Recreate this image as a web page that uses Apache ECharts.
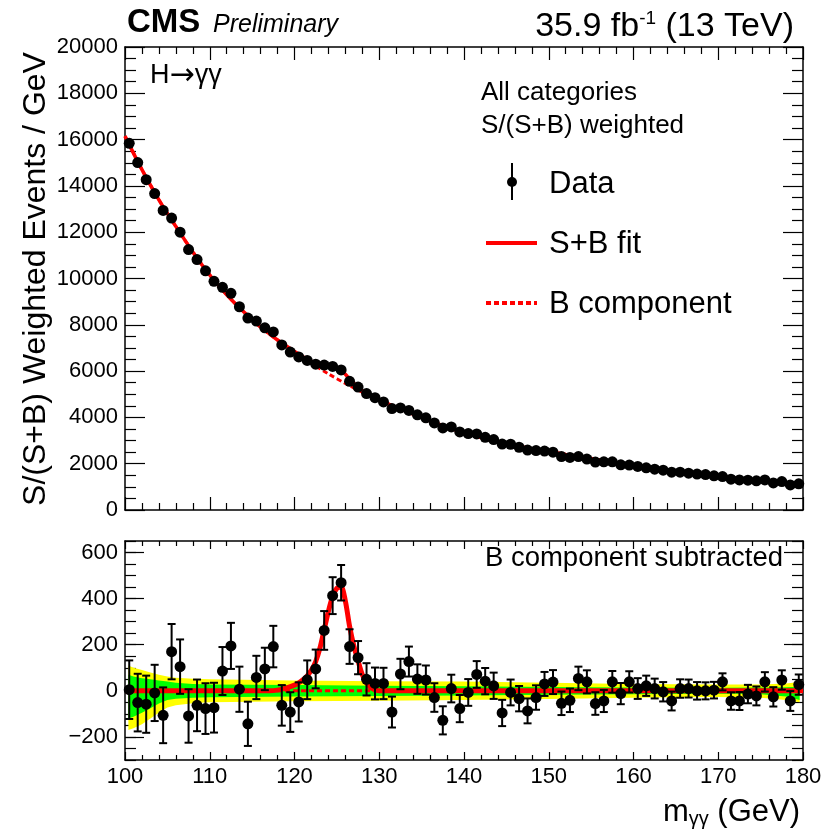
<!DOCTYPE html>
<html>
<head>
<meta charset="utf-8">
<script src="https://cdn.jsdelivr.net/npm/echarts@6/dist/echarts.min.js"></script>
<style>
  html, body { margin: 0; padding: 0; background: #fff; }
  #chart { width: 831px; height: 834px; }
</style>
</head>
<body>
<div id="chart"></div>
<script>
// binning of the diphoton mass histogram (GeV)
var binLow = 100;
var binWidth = 1;

// top pad: S/(S+B) weighted events per bin, 100-180 GeV
var weightedEvents = [
  15840, 15010, 14270, 13670, 12940, 12610, 12000, 11250, 10820, 10330,
  9880, 9620, 9360, 8780, 8290, 8160, 7870, 7690, 7130, 6820,
  6610, 6460, 6300, 6260, 6200, 6050, 5560, 5310, 5030, 4850,
  4670, 4380, 4410, 4300, 4110, 3980, 3760, 3545, 3590, 3370,
  3300, 3285, 3140, 3040, 2850, 2840, 2710, 2590, 2565, 2545,
  2500, 2310, 2270, 2310, 2200, 2070, 2080, 2080, 1950, 1940,
  1880, 1820, 1765, 1720, 1635, 1635, 1590, 1550, 1530, 1475,
  1445, 1330, 1300, 1290, 1260, 1300, 1170, 1230, 1085, 1130
];

// bottom pad: data minus B component, with errors
var residEvents = [
  5, -51, -58, -9, -106, 170, 105, -109, -63, -77,
  -73, 86, 195, 7, -143, 58, 95, 192, -63, -92,
  -48, 48, 95, 262, 413, 469, 192, 144, 50, 32,
  32, -92, 73, 127, 51, 47, -29, -128, 10, -77,
  -7, 71, 42, 22, -96, -7, -34, -87, -29, 30,
  38, -54, -41, 54, 39, -55, -44, 39, -12, 39,
  10, 22, 10, -4, -44, 10, 10, 0, 0, 3,
  39, -44, -44, -14, -22, 39, -26, 47, -44, 27
];
var residErr = [
  127, 125, 124, 122, 121, 120, 118, 116, 112, 110,
  108, 104, 100, 98, 96, 94, 92, 90, 88, 86,
  85, 84, 84, 84, 80, 77, 75, 72, 70, 69,
  68, 67, 66, 65, 64, 63, 62, 61, 60, 59,
  58, 58, 57, 57, 57, 56, 55, 54, 53, 52,
  52, 51, 51, 51, 50, 49, 48, 47, 46, 46,
  45, 44, 43, 42, 41, 40, 39, 38, 37, 36,
  37, 38, 39, 40, 41, 42, 42, 42, 43, 44
];

// B component of the fit
var bMass = [100, 102, 104, 106, 108, 110, 112, 114, 116, 118,
             120, 122, 124, 126, 128, 130, 132, 134, 136, 138,
             140, 142, 144, 146, 148, 150, 152, 154, 156, 158,
             160, 162, 164, 166, 168, 170, 172, 174, 176, 178, 180];
var bFit = [16150, 14700, 13400, 12250, 11150, 10150, 9300, 8560, 7900, 7340,
            6820, 6330, 5880, 5470, 5090, 4750, 4440, 4140, 3850, 3580,
            3340, 3130, 2950, 2790, 2650, 2530, 2400, 2280, 2160, 2030,
            1910, 1810, 1720, 1630, 1540, 1460, 1380, 1310, 1240, 1170, 1110];

// signal part of the S+B fit (S+B minus B)
var sigMass = [100, 117, 118, 119, 120, 120.5, 121, 121.5, 122, 122.5, 123, 123.5,
               124, 124.5, 125, 125.5, 126, 126.5, 127, 127.5, 128, 128.5,
               129, 129.5, 130, 132, 180];
var sigFit = [0, 0, 3, 12, 25, 35, 48, 65, 90, 127, 185, 265,
              345, 410, 445, 450, 390, 280, 195, 130, 70, 35,
              14, 5, 0, 0, 0];

// uncertainty bands on the B component (bottom pad)
var bandMass = [100.4, 101, 102, 103, 104, 105, 106, 108, 110, 120, 130, 140, 150, 160, 170, 175, 178, 179.6];
var band2Hi = [110, 100, 90, 80, 70, 62, 57, 52, 50, 45, 42, 40, 35, 30, 27, 28, 32, 38];
var band2Lo = [-170, -162, -145, -120, -95, -72, -62, -54, -50, -45, -43, -40, -35, -30, -27, -30, -40, -50];
var band1Hi = [70, 62, 55, 50, 45, 40, 35, 30, 28, 25, 22, 20, 17, 15, 13, 14, 16, 18];
var band1Lo = [-120, -112, -95, -75, -55, -40, -34, -30, -28, -25, -22, -20, -17, -15, -13, -15, -25, -40];

var FONT = 'Liberation Sans';

function bAt(m) {
  for (var i = 0; i < bMass.length - 1; i++) {
    if (m >= bMass[i] && m <= bMass[i + 1]) {
      var t = (m - bMass[i]) / (bMass[i + 1] - bMass[i]);
      return bFit[i] + t * (bFit[i + 1] - bFit[i]);
    }
  }
  return bFit[bFit.length - 1];
}

var centers = weightedEvents.map(function (v, i) { return binLow + binWidth * (i + 0.5); });
var topData = weightedEvents.map(function (v, i) { return [centers[i], v]; });
var botData = residEvents.map(function (v, i) { return [centers[i], v, residErr[i]]; });
var bLine = bMass.map(function (m, i) { return [m, bFit[i]]; });

// S+B curve for the top pad: B nodes outside the peak, signal nodes inside
var sbLine = [];
bMass.forEach(function (m, i) { if (m < 117 || m > 132) sbLine.push([m, bFit[i]]); });
sigMass.forEach(function (m, i) { if (m >= 117 && m <= 132) sbLine.push([m, bAt(m) + sigFit[i]]); });
sbLine.sort(function (a, b) { return a[0] - b[0]; });

var sigLine = sigMass.map(function (m, i) { return [m, sigFit[i]]; });
var bandRows = bandMass.map(function (m, i) { return [m, band2Lo[i], band2Hi[i], band1Lo[i], band1Hi[i]]; });

function plainNum(v) { return String(v).replace('-', '\u2212'); }

function xAx(grid, pos, labels, tickLen, minorLen) {
  return {
    type: 'value', gridIndex: grid, position: pos, min: 100, max: 180, interval: 10,
    axisLine: { show: true, onZero: false, lineStyle: { color: '#000', width: 1.5 } },
    axisTick: { show: true, inside: true, length: tickLen, lineStyle: { color: '#000', width: 1.2 } },
    minorTick: { show: true, splitNumber: 5, length: minorLen, lineStyle: { color: '#000', width: 1.2 } },
    axisLabel: { show: labels, fontFamily: FONT, fontSize: 22, color: '#000', margin: 6, formatter: plainNum },
    splitLine: { show: false }
  };
}

var myChart = echarts.init(document.getElementById('chart'));
var option = {
  animation: false,
  backgroundColor: '#fff',
  grid: [
    { left: 125, top: 47, width: 678, height: 463 },
    { left: 125, top: 541, width: 678, height: 219 }
  ],
  xAxis: [
    xAx(0, 'bottom', false, 13, 7),
    xAx(0, 'top', false, 13, 7),
    xAx(1, 'bottom', true, 8, 5),
    xAx(1, 'top', false, 8, 5)
  ],
  yAxis: [
    {       // top pad, left
      type: 'value', gridIndex: 0, position: 'left', min: 0, max: 20000, interval: 2000,
      axisLine: { show: true, onZero: false, lineStyle: { color: '#000', width: 1.5 } },
      axisTick: { show: true, inside: true, length: 20, lineStyle: { color: '#000', width: 1.2 } },
      minorTick: { show: true, splitNumber: 4, length: 11, lineStyle: { color: '#000', width: 1.2 } },
      axisLabel: { fontFamily: FONT, fontSize: 22, color: '#000', margin: 7, formatter: plainNum },
      splitLine: { show: false }
    },
    {       // top pad, right
      type: 'value', gridIndex: 0, position: 'right', min: 0, max: 20000, interval: 2000,
      axisLine: { show: true, onZero: false, lineStyle: { color: '#000', width: 1.5 } },
      axisTick: { show: true, inside: true, length: 20, lineStyle: { color: '#000', width: 1.2 } },
      minorTick: { show: true, splitNumber: 4, length: 11, lineStyle: { color: '#000', width: 1.2 } },
      axisLabel: { show: false },
      splitLine: { show: false }
    },
    {       // bottom pad, left, minor ticks + labels
      type: 'value', gridIndex: 1, position: 'left', min: -300, max: 650, interval: 50,
      axisLine: { show: true, onZero: false, lineStyle: { color: '#000', width: 1.5 } },
      axisTick: { show: true, inside: true, length: 11, lineStyle: { color: '#000', width: 1.2 } },
      axisLabel: {
        fontFamily: FONT, fontSize: 22, color: '#000', margin: 7,
        formatter: function (v) { return v % 200 === 0 ? plainNum(v) : ''; }
      },
      splitLine: { show: false }
    },
    {       // bottom pad, left, major ticks
      type: 'value', gridIndex: 1, position: 'left', min: -300, max: 650,
      axisLine: { show: false },
      axisTick: { show: true, inside: true, length: 19, customValues: [-200, 0, 200, 400, 600], lineStyle: { color: '#000', width: 1.2 } },
      axisLabel: { show: false },
      splitLine: { show: false }
    },
    {       // bottom pad, right, minor ticks
      type: 'value', gridIndex: 1, position: 'right', min: -300, max: 650, interval: 50,
      axisLine: { show: true, onZero: false, lineStyle: { color: '#000', width: 1.5 } },
      axisTick: { show: true, inside: true, length: 11, lineStyle: { color: '#000', width: 1.2 } },
      axisLabel: { show: false },
      splitLine: { show: false }
    },
    {       // bottom pad, right, major ticks
      type: 'value', gridIndex: 1, position: 'right', min: -300, max: 650,
      axisLine: { show: false },
      axisTick: { show: true, inside: true, length: 19, customValues: [-200, 0, 200, 400, 600], lineStyle: { color: '#000', width: 1.2 } },
      axisLabel: { show: false },
      splitLine: { show: false }
    }
  ],
  series: [
    {
      name: 'B component', type: 'line', xAxisIndex: 0, yAxisIndex: 0, data: bLine,
      smooth: 0.3, symbol: 'none', z: 2,
      lineStyle: { color: '#ff0000', width: 3, type: [5, 3] }
    },
    {
      name: 'S+B fit', type: 'line', xAxisIndex: 0, yAxisIndex: 0, data: sbLine,
      smooth: 0.3, symbol: 'none', z: 3,
      lineStyle: { color: '#ff0000', width: 3.5 }
    },
    {
      name: 'Data', type: 'scatter', xAxisIndex: 0, yAxisIndex: 0, data: topData,
      symbol: 'circle', symbolSize: 11, z: 5,
      itemStyle: { color: '#000', opacity: 1 }
    },
    {
      name: 'bands', type: 'custom', xAxisIndex: 2, yAxisIndex: 2, data: bandRows, z: 1,
      renderItem: function (params, api) {
        if (params.dataIndex !== 0) return null;
        var y2 = [], g1 = [];
        bandRows.forEach(function (r) { y2.push(api.coord([r[0], r[2]])); g1.push(api.coord([r[0], r[4]])); });
        for (var i = bandRows.length - 1; i >= 0; i--) {
          y2.push(api.coord([bandRows[i][0], bandRows[i][1]]));
          g1.push(api.coord([bandRows[i][0], bandRows[i][3]]));
        }
        return {
          type: 'group',
          children: [
            { type: 'polygon', shape: { points: y2 }, style: { fill: '#ffff00' } },
            { type: 'polygon', shape: { points: g1 }, style: { fill: '#00ff00' } }
          ]
        };
      }
    },
    {
      name: 'B zero', type: 'line', xAxisIndex: 2, yAxisIndex: 2, data: [[100, 0], [180, 0]],
      symbol: 'none', z: 2,
      lineStyle: { color: '#ff0000', width: 3, type: [5, 3] }
    },
    {
      name: 'S+B minus B', type: 'line', xAxisIndex: 2, yAxisIndex: 2, data: sigLine,
      smooth: 0.3, symbol: 'none', z: 3,
      lineStyle: { color: '#ff0000', width: 5 }
    },
    {
      name: 'errors', type: 'custom', xAxisIndex: 2, yAxisIndex: 2, data: botData, z: 4,
      renderItem: function (params, api) {
        var x = api.value(0), y = api.value(1), e = api.value(2);
        var hi = api.coord([x, y + e]);
        var lo = api.coord([x, y - e]);
        var st = { stroke: '#000', lineWidth: 2 };
        return {
          type: 'group',
          children: [
            { type: 'line', shape: { x1: hi[0], y1: hi[1], x2: lo[0], y2: lo[1] }, style: st },
            { type: 'line', shape: { x1: hi[0] - 4, y1: hi[1], x2: hi[0] + 4, y2: hi[1] }, style: st },
            { type: 'line', shape: { x1: lo[0] - 4, y1: lo[1], x2: lo[0] + 4, y2: lo[1] }, style: st }
          ]
        };
      }
    },
    {
      name: 'Data sub', type: 'scatter', xAxisIndex: 2, yAxisIndex: 2,
      data: botData.map(function (d) { return [d[0], d[1]]; }),
      symbol: 'circle', symbolSize: 11, z: 5,
      itemStyle: { color: '#000', opacity: 1 }
    }
  ],
  graphic: [
    { type: 'text', left: 127, top: 6, style: { text: 'CMS', font: 'bold 33px "Liberation Sans"', fill: '#000' } },
    { type: 'text', left: 213, top: 13, style: { text: 'Preliminary', font: 'italic 25px "Liberation Sans"', fill: '#000' } },
    {
      type: 'text', right: 37, top: 9,
      style: {
        text: '{a|35.9 fb}{s|-1}{a| (13 TeV)}', fill: '#000',
        rich: {
          a: { fontFamily: FONT, fontSize: 34, color: '#000', verticalAlign: 'bottom' },
          s: { fontFamily: FONT, fontSize: 19, color: '#000', verticalAlign: 'top', padding: [0, 0, 16, 0] }
        }
      }
    },
    {
      type: 'text', x: 36, y: 279, rotation: Math.PI / 2,
      style: { text: 'S/(S+B) Weighted Events / GeV', fontFamily: FONT, fontSize: 32, fill: '#000', align: 'center', verticalAlign: 'middle' }
    },
    {
      type: 'text', x: 150, y: 76,
      style: {
        text: '{a|H}{r|\u2192}{a|\u03b3\u03b3}', verticalAlign: 'middle',
        rich: {
          a: { fontFamily: FONT, fontSize: 27, color: '#000' },
          r: { fontFamily: 'DejaVu Sans', fontSize: 30, color: '#000' }
        }
      }
    },
    { type: 'text', x: 481, y: 93, style: { text: 'All categories', fontFamily: FONT, fontSize: 26, fill: '#000', verticalAlign: 'middle' } },
    { type: 'text', x: 481, y: 126, style: { text: 'S/(S+B) weighted', fontFamily: FONT, fontSize: 26, fill: '#000', verticalAlign: 'middle' } },
    { type: 'line', shape: { x1: 512, y1: 163, x2: 512, y2: 200 }, style: { stroke: '#000', lineWidth: 2 } },
    { type: 'circle', shape: { cx: 512, cy: 182, r: 5 }, style: { fill: '#000' } },
    { type: 'text', x: 549, y: 184, style: { text: 'Data', fontFamily: FONT, fontSize: 31, fill: '#000', verticalAlign: 'middle' } },
    { type: 'line', shape: { x1: 486, y1: 243, x2: 537, y2: 243 }, style: { stroke: '#ff0000', lineWidth: 4 } },
    { type: 'text', x: 549, y: 244, style: { text: 'S+B fit', fontFamily: FONT, fontSize: 31, fill: '#000', verticalAlign: 'middle' } },
    { type: 'line', shape: { x1: 486, y1: 303, x2: 537, y2: 303 }, style: { stroke: '#ff0000', lineWidth: 4, lineDash: [5, 3] } },
    { type: 'text', x: 549, y: 304, style: { text: 'B component', fontFamily: FONT, fontSize: 31, fill: '#000', verticalAlign: 'middle' } },
    { type: 'text', x: 783, y: 558, style: { text: 'B component subtracted', fontFamily: FONT, fontSize: 27.5, fill: '#000', align: 'right', verticalAlign: 'middle' } },
    {
      type: 'text', right: 31, top: 797,
      style: {
        text: '{a|m}{s|\u03b3\u03b3}{a| (GeV)}', fill: '#000',
        rich: {
          a: { fontFamily: FONT, fontSize: 31, color: '#000', verticalAlign: 'top' },
          s: { fontFamily: FONT, fontSize: 20, color: '#000', verticalAlign: 'bottom', padding: [12, 0, 0, 0] }
        }
      }
    }
  ]
};
myChart.setOption(option);
</script>
</body>
</html>
